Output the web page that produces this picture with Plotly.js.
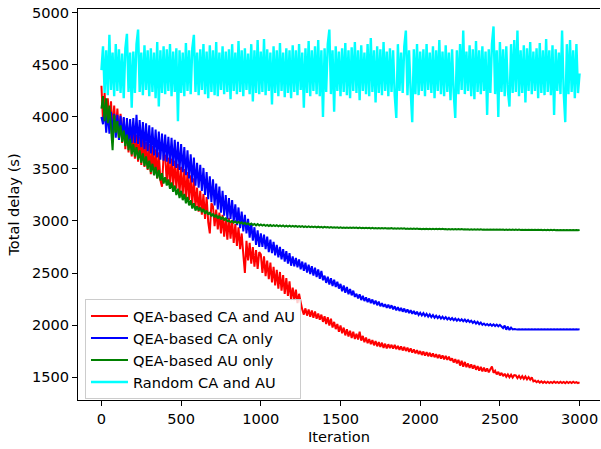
<!DOCTYPE html>
<html>
<head>
<meta charset="utf-8">
<script src="https://cdn.plot.ly/plotly-3.0.1.min.js"></script>
<style>html,body{margin:0;padding:0;background:#fff}#chart{width:601px;height:449px}</style>
</head>
<body>
<div id="chart"></div>
<script>
// Values every 10 iterations (0 ... 3000)
const iterStep = 10;

// QEA-based CA and AU (red)
const redValues = [
4300,3960,4230,3950,4180,3900,4150,3860,4110,3850,4080,3800,4030,3750,3990,3690,3930,3660,3890,3620,
3860,3600,3830,3570,3810,3540,3790,3520,3760,3490,3740,3450,3720,3440,3690,3410,3660,3390,3330,3630,
3630,3370,3610,3350,3600,3330,3580,3310,3550,3260,3520,3250,3500,3210,3470,3200,3440,3160,3410,3130,
3320,3090,3290,3060,3260,3020,3230,2990,2880,3170,3140,2950,3110,2920,3080,2880,3060,2850,3030,2820,
3030,2830,3010,2790,2970,2760,2940,2730,2880,2680,2500,2810,2620,2790,2590,2750,2560,2720,2540,2700,
2680,2500,2660,2470,2620,2440,2600,2410,2560,2380,2530,2350,2510,2330,2480,2300,2450,2280,2420,2240,
2360,2240,2340,2210,2300,2220,2150,2100,2160,2090,2150,2080,2140,2070,2130,2060,2110,2050,2100,2030,
2085,2010,2075,1995,2060,1975,2030,1960,2010,1935,1995,1920,1975,1900,1960,1890,1945,1875,1935,1865,
1915,1860,1935,1850,1895,1835,1880,1825,1865,1815,1855,1805,1845,1795,1835,1790,1830,1780,1820,1775,
1815,1778,1810,1772,1808,1768,1800,1762,1795,1755,1790,1750,1782,1742,1775,1735,1765,1728,1758,1720,
1750,1712,1745,1705,1740,1700,1733,1695,1728,1690,1720,1682,1715,1678,1708,1670,1702,1665,1695,1658,
1680,1640,1672,1632,1665,1610,1655,1600,1645,1595,1630,1588,1622,1580,1615,1570,1605,1562,1598,1555,
1590,1552,1582,1545,1575,1600,1540,1560,1525,1550,1515,1540,1508,1532,1502,1525,1498,1522,1495,1518,
1515,1490,1512,1486,1508,1482,1505,1478,1500,1474,1496,1458,1466,1450,1462,1446,1458,1444,1456,1443,
1455,1443,1453,1442,1456,1444,1452,1442,1455,1443,1452,1441,1454,1443,1452,1442,1455,1443,1451,1442,
1448
];

// QEA-based CA only (blue)
const blueValues = [
4000,3930,4080,3850,4060,3840,4050,3820,4030,3800,4020,3780,4010,3770,4000,3750,3990,3740,3980,3750,
3990,3750,4020,3740,3970,3710,3950,3690,3940,3670,3920,3650,3900,3630,3880,3610,3860,3590,3840,3580,
3830,3570,3810,3550,3800,3530,3780,3510,3760,3490,3740,3470,3710,3440,3680,3410,3640,3370,3610,3340,
3560,3320,3540,3290,3510,3250,3470,3210,3430,3180,3400,3150,3360,3110,3330,3080,3290,3050,3250,3020,
3220,3020,3200,2990,3160,2960,3130,2930,3090,2900,3060,2880,3020,2840,2980,2810,2940,2770,2910,2750,
2880,2750,2870,2730,2850,2700,2820,2690,2800,2670,2770,2650,2750,2630,2730,2610,2710,2590,2690,2570,
2660,2565,2645,2555,2630,2535,2610,2520,2600,2505,2580,2490,2565,2475,2550,2460,2535,2445,2520,2430,
2475,2405,2465,2390,2450,2375,2435,2365,2415,2350,2395,2325,2380,2310,2365,2295,2345,2285,2330,2270,
2300,2255,2295,2240,2280,2230,2265,2220,2255,2210,2245,2200,2235,2190,2225,2180,2210,2175,2200,2165,
2195,2160,2190,2150,2180,2140,2172,2135,2165,2128,2158,2122,2150,2115,2142,2108,2135,2102,2128,2096,
2118,2092,2114,2088,2108,2080,2102,2075,2096,2070,2090,2066,2085,2062,2080,2058,2075,2054,2070,2050,
2066,2046,2062,2042,2058,2040,2055,2036,2052,2032,2048,2028,2042,2020,2036,2014,2030,2008,2024,2002,
2014,1998,2010,1995,2008,1992,2006,1990,2004,1988,2002,1986,1970,1995,1955,1985,1952,1975,1958,1962,
1959,1957,1958,1957,1958,1957,1958,1957,1958,1957,1958,1957,1958,1957,1958,1957,1958,1957,1958,1957,
1958,1957,1958,1957,1958,1957,1958,1957,1958,1957,1958,1957,1958,1957,1958,1957,1958,1957,1958,1957,
1958
];

// QEA-based AU only (green)
const greenValues = [
4080,4200,3960,4180,3940,4110,3900,3680,4020,3850,3960,3800,3920,3760,3870,3720,3830,3680,3790,3640,
3740,3620,3710,3590,3680,3560,3650,3530,3620,3500,3580,3470,3550,3440,3520,3410,3490,3390,3460,3360,
3420,3340,3400,3310,3370,3280,3340,3250,3310,3220,3290,3200,3260,3170,3230,3150,3200,3120,3170,3100,
3140,3100,3130,3085,3115,3070,3100,3060,3085,3045,3070,3035,3060,3025,3050,3015,3040,3005,3030,2998,
3005,2988,3000,2984,2996,2980,2992,2976,2988,2972,2982,2968,2978,2964,2975,2962,2972,2958,2970,2956,
2966,2955,2964,2954,2962,2952,2961,2951,2960,2950,2959,2949,2958,2948,2957,2947,2956,2946,2955,2945,
2953,2945,2952,2944,2951,2943,2950,2942,2949,2941,2948,2940,2947,2940,2946,2939,2945,2938,2944,2937,
2943,2937,2942,2936,2941,2935,2940,2935,2940,2934,2939,2934,2938,2933,2938,2933,2937,2932,2937,2932,
2936,2931,2936,2931,2935,2930,2935,2930,2934,2929,2934,2929,2933,2929,2933,2928,2932,2928,2932,2927,
2931,2927,2931,2926,2930,2926,2930,2925,2929,2925,2929,2924,2928,2924,2928,2924,2927,2923,2927,2923,
2926,2922,2926,2922,2925,2921,2925,2921,2925,2921,2924,2920,2924,2920,2924,2920,2923,2919,2923,2919,
2923,2919,2922,2919,2922,2918,2922,2918,2921,2918,2921,2917,2921,2917,2920,2917,2920,2916,2920,2916,
2919,2916,2919,2916,2919,2915,2918,2915,2918,2915,2918,2915,2918,2914,2917,2914,2917,2914,2917,2914,
2917,2914,2917,2914,2916,2913,2916,2913,2916,2913,2916,2913,2916,2913,2915,2913,2915,2912,2915,2912,
2915,2912,2915,2912,2915,2912,2914,2912,2914,2912,2914,2912,2914,2912,2914,2911,2914,2911,2914,2911,
2914
];

// Random CA and AU (cyan)
const cyanValues = [
4450,4680,4230,4640,4210,4790,4260,4620,4200,4700,4250,4650,4230,4610,4180,4660,4800,4240,4620,4090,
4630,4230,4700,4840,4240,4620,4210,4690,4260,4640,4200,4660,4240,4620,4180,4720,4100,4640,4230,4680,
4220,4650,4250,4700,4200,4630,4240,4660,3960,4640,4230,4620,4200,4710,4250,4640,4220,4660,4790,4240,
4620,4210,4650,4260,4700,4220,4630,4180,4690,4240,4640,4210,4720,4200,4620,4260,4680,4220,4630,4240,
4650,4170,4700,4250,4620,4220,4730,4240,4640,4200,4660,4260,4610,4220,4700,4150,4640,4230,4740,4220,
4630,4240,4750,4210,4650,4250,4620,4120,4680,4230,4640,4200,4710,4250,4620,4190,4660,4230,4640,4180,
4690,4240,4640,4210,4700,4260,4620,4090,4660,4230,4730,4200,4640,4250,4680,4220,4740,4200,4640,4000,
4660,4240,4700,4840,4220,4640,4050,4680,4250,4630,4200,4660,4240,4710,4210,4640,4180,4670,4250,4720,
4230,4640,4160,4690,4250,4620,4220,4700,4200,4760,4240,4640,4140,4680,4230,4650,4210,4720,4250,4630,
4200,4660,4240,4640,4210,3990,4700,4250,4620,4230,4680,4830,4210,4640,4250,3950,4650,4220,4700,4210,
4630,4250,4650,4200,4700,4260,4620,4230,4680,4180,4640,4250,4740,4220,4630,4200,4690,4240,4620,4160,
4650,4230,3990,4640,4220,4700,4260,4830,4220,4630,4250,4690,4200,4650,4170,4730,4240,4640,4220,4680,
4250,4630,4020,4650,4230,4700,4870,4220,4640,4000,4720,4240,4650,4200,4680,4250,4100,4700,4230,4740,
4240,4830,4200,4640,4230,4690,4140,4660,4250,4720,4220,4630,4250,4660,4180,4710,4230,4640,4210,4750,
4240,4640,4210,4690,4020,4650,4250,4620,4220,4830,4240,3950,4700,4220,4740,4240,4640,4180,4700,4230,
4420
];

const seriesNames = ['QEA-based CA and AU', 'QEA-based CA only', 'QEA-based AU only', 'Random CA and AU'];
const seriesColors = ['#ff0000', '#0000ff', '#008000', '#00ffff'];
const seriesWidths = [2, 2, 2, 2.4];
const seriesValues = [redValues, blueValues, greenValues, cyanValues];

const xTicks = [0, 500, 1000, 1500, 2000, 2500, 3000];
const yTicks = [1500, 2000, 2500, 3000, 3500, 4000, 4500, 5000];

const traces = seriesValues.map((vals, s) => ({
  type: 'scatter',
  mode: 'lines',
  name: seriesNames[s],
  x: vals.map((_, i) => i * iterStep),
  y: vals,
  line: {color: seriesColors[s], width: seriesWidths[s], simplify: false},
  hoverinfo: 'skip'
}));

const font = {family: 'DejaVu Sans, sans-serif', size: 14.6, color: '#000'};

const layout = {
  width: 601, height: 449,
  margin: {l: 78, r: 1, t: 9, b: 49, pad: 0},
  paper_bgcolor: '#fff', plot_bgcolor: '#fff',
  font: font,
  showlegend: true,
  legend: {
    x: 0.0134, y: 0.2583, xanchor: 'left', yanchor: 'top',
    bgcolor: 'rgba(255,255,255,0.8)', bordercolor: '#cccccc', borderwidth: 1,
    font: font, tracegroupgap: 0, itemwidth: 37
  },
  xaxis: {
    range: [-147, 3128], tickvals: xTicks, ticktext: xTicks.map(String),
    ticks: 'outside', ticklen: 5, tickwidth: 1, tickcolor: '#000',
    showline: true, linecolor: '#000', linewidth: 1, mirror: true,
    showgrid: false, zeroline: false,
    title: {text: 'Iteration', font: font, standoff: 6}
  },
  yaxis: {
    range: [1279, 5038], tickvals: yTicks, ticktext: yTicks.map(String),
    ticks: 'outside', ticklen: 5, tickwidth: 1, tickcolor: '#000',
    showline: true, linecolor: '#000', linewidth: 1, mirror: false,
    showgrid: false, zeroline: false,
    title: {text: 'Total delay (s)', font: font, standoff: 8}
  }
};

Plotly.newPlot('chart', traces, layout, {staticPlot: true, displayModeBar: false});
</script>
</body>
</html>
